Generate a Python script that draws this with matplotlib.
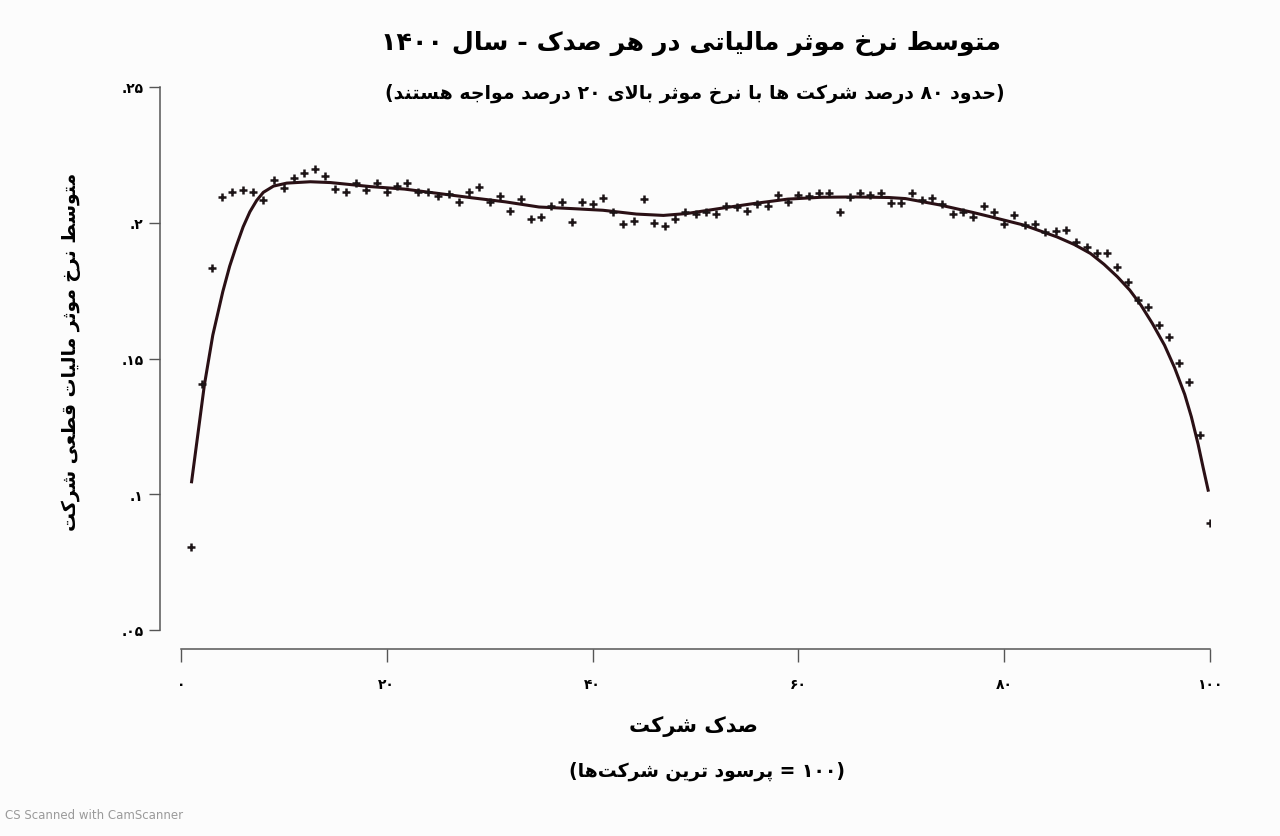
import re
import matplotlib
matplotlib.use("Agg")
import matplotlib.pyplot as plt

plt.rcParams['font.family'] = ['DejaVu Sans']

# percentile of firm (1..100) and mean effective tax rate
pct = list(range(1, 101))
rate = [0.0806, 0.1407, 0.1834, 0.2096, 0.2114, 0.2120, 0.2112, 0.2084, 0.2157, 0.2129,
        0.2163, 0.2184, 0.2198, 0.2172, 0.2123, 0.2112, 0.2145, 0.2120, 0.2147, 0.2114,
        0.2135, 0.2147, 0.2112, 0.2112, 0.2100, 0.2106, 0.2077, 0.2114, 0.2130, 0.2077,
        0.2098, 0.2043, 0.2087, 0.2014, 0.2022, 0.2063, 0.2077, 0.2004, 0.2075, 0.2069,
        0.2090, 0.2041, 0.1997, 0.2006, 0.2086, 0.2000, 0.1989, 0.2012, 0.2041, 0.2034,
        0.2041, 0.2034, 0.2062, 0.2059, 0.2043, 0.2069, 0.2063, 0.2102, 0.2075, 0.2102,
        0.2098, 0.2108, 0.2111, 0.2041, 0.2096, 0.2108, 0.2102, 0.2111, 0.2071, 0.2071,
        0.2111, 0.2084, 0.2090, 0.2069, 0.2033, 0.2041, 0.2022, 0.2063, 0.2041, 0.1994,
        0.2029, 0.1991, 0.1997, 0.1967, 0.1969, 0.1975, 0.1930, 0.1909, 0.1887, 0.1887,
        0.1838, 0.1780, 0.1717, 0.1690, 0.1625, 0.1578, 0.1484, 0.1412, 0.1218, 0.0895]

# fitted curve
fit_x = [1.03, 2.27, 3.09, 4.06, 4.73, 5.38, 6.04, 6.69, 7.35, 8.0, 8.99, 10.28, 12.57,
         14.53, 18.45, 21.72, 24.99, 28.25, 31.52, 34.79, 38.06, 41.0, 44.26, 46.88,
         49.17, 52.44, 55.71, 58.97, 62.25, 65.51, 68.77, 70.41, 73.68, 76.95, 78.58,
         81.85, 85.12, 86.8, 88.38, 89.7, 91.0, 92.2, 93.28, 94.4, 95.58, 96.56, 97.54,
         98.19, 98.84, 99.34, 99.82]
fit_y = [0.1046, 0.1402, 0.1586, 0.1746, 0.1840, 0.1915, 0.1985, 0.2040, 0.2082, 0.2112,
         0.2135, 0.2146, 0.2151, 0.2148, 0.2133, 0.2124, 0.2108, 0.2092, 0.2077, 0.2058,
         0.2052, 0.2046, 0.2032, 0.2027, 0.2034, 0.2053, 0.2071, 0.2087, 0.2094, 0.2095,
         0.2093, 0.2089, 0.2066, 0.2038, 0.2023, 0.1992, 0.1948, 0.1920, 0.1887, 0.1847,
         0.1801, 0.1752, 0.1697, 0.1629, 0.1549, 0.1466, 0.1368, 0.1285, 0.1185, 0.1097,
         0.1015]

yticks = [0.05, 0.1, 0.15, 0.2, 0.25]
ytick_labels = ['.۰۵', '.۱', '.۱۵', '.۲', '.۲۵']
xticks = [0, 20, 40, 60, 80, 100]
xtick_labels = ['۰', '۲۰', '۴۰', '۶۰', '۸۰', '۱۰۰']

title = 'متوسط نرخ موثر مالیاتی در هر صدک - سال ۱۴۰۰'
subtitle = '(حدود ۸۰ درصد شرکت ها با نرخ موثر بالای ۲۰ درصد مواجه هستند)'
ylab = 'متوسط نرخ موثر مالیات قطعی شرکت'
xlab1 = 'صدک شرکت'
xlab2 = '(۱۰۰ = پرسود ترین شرکت\u200cها)'

# --- minimal Persian shaping (no arabic_reshaper available) ---
# isolated, final, initial, medial
FORMS = {
    'ا': ('\uFE8D', '\uFE8E', None, None),
    'ب': ('\uFE8F', '\uFE90', '\uFE91', '\uFE92'),
    'پ': ('\uFB56', '\uFB57', '\uFB58', '\uFB59'),
    'ت': ('\uFE95', '\uFE96', '\uFE97', '\uFE98'),
    'ث': ('\uFE99', '\uFE9A', '\uFE9B', '\uFE9C'),
    'ج': ('\uFE9D', '\uFE9E', '\uFE9F', '\uFEA0'),
    'ح': ('\uFEA1', '\uFEA2', '\uFEA3', '\uFEA4'),
    'خ': ('\uFEA5', '\uFEA6', '\uFEA7', '\uFEA8'),
    'د': ('\uFEA9', '\uFEAA', None, None),
    'ر': ('\uFEAD', '\uFEAE', None, None),
    'س': ('\uFEB1', '\uFEB2', '\uFEB3', '\uFEB4'),
    'ش': ('\uFEB5', '\uFEB6', '\uFEB7', '\uFEB8'),
    'ص': ('\uFEB9', '\uFEBA', '\uFEBB', '\uFEBC'),
    'ط': ('\uFEC1', '\uFEC2', '\uFEC3', '\uFEC4'),
    'ع': ('\uFEC9', '\uFECA', '\uFECB', '\uFECC'),
    'ق': ('\uFED5', '\uFED6', '\uFED7', '\uFED8'),
    'ک': ('\uFB8E', '\uFB8F', '\uFB90', '\uFB91'),
    'ل': ('\uFEDD', '\uFEDE', '\uFEDF', '\uFEE0'),
    'م': ('\uFEE1', '\uFEE2', '\uFEE3', '\uFEE4'),
    'ن': ('\uFEE5', '\uFEE6', '\uFEE7', '\uFEE8'),
    'ه': ('\uFEE9', '\uFEEA', '\uFEEB', '\uFEEC'),
    'و': ('\uFEED', '\uFEEE', None, None),
    'ی': ('\uFBFC', '\uFBFD', '\uFBFE', '\uFBFF'),
    '\uFEFB': ('\uFEFB', '\uFEFC', None, None),  # lam-alef
}
MIRROR = {'(': ')', ')': '('}


def fa(text):
    s = text.replace('لا', '\uFEFB')
    out = []
    for i, c in enumerate(s):
        if c not in FORMS:
            out.append(c)
            continue
        prev = s[i - 1] if i > 0 else ''
        nxt = s[i + 1] if i + 1 < len(s) else ''
        pj = prev in FORMS and FORMS[prev][2] is not None
        nj = nxt in FORMS and FORMS[c][2] is not None
        f = FORMS[c]
        if pj and nj:
            out.append(f[3])
        elif pj:
            out.append(f[1])
        elif nj:
            out.append(f[2])
        else:
            out.append(f[0])
    shaped = ''.join(out).replace('\u200c', '')
    runs = re.findall(r'[۰-۹]+|.', shaped)
    return ''.join(MIRROR.get(r, r) for r in reversed(runs))


fig = plt.figure(figsize=(12.8, 8.37), dpi=100)
fig.patch.set_facecolor('#fcfcfc')
ax = fig.add_axes([181 / 1280, 1 - 631 / 837, 1029 / 1280, 543 / 837])
ax.set_facecolor('#fcfcfc')

ax.scatter(pct, rate, marker='+', s=34, linewidths=1.8, color='#1c1416', zorder=3)
ax.plot(fit_x, fit_y, color='#2a1015', lw=2.2, zorder=2, solid_joinstyle='round')

ax.set_xlim(0, 100)
ax.set_ylim(0.05, 0.25)
for side in ['top', 'right']:
    ax.spines[side].set_visible(False)
ax.spines['left'].set_position(('outward', 15))
ax.spines['bottom'].set_position(('outward', 14))
ax.spines['left'].set_bounds(0.05, 0.25)
ax.spines['bottom'].set_bounds(0, 100)
for side in ['left', 'bottom']:
    ax.spines[side].set_color('#555555')
    ax.spines[side].set_linewidth(1.1)

ax.set_yticks(yticks)
ax.set_yticklabels(ytick_labels, fontsize=10, fontweight='bold')
ax.set_xticks(xticks)
ax.set_xticklabels(xtick_labels, fontsize=10, fontweight='bold')
ax.tick_params(axis='y', length=8, width=1, color='#555555', pad=4)
ax.tick_params(axis='x', length=9, width=1, color='#555555', pad=11)

fig.text(0.54, 0.948, fa(title), ha='center', va='center', fontsize=18.3, fontweight='bold')
fig.text(0.543, 0.888, fa(subtitle), ha='center', va='center', fontsize=13.6, fontweight='bold')
fig.text(0.056, 0.58, fa(ylab), ha='center', va='center', rotation=90, fontsize=13.5, fontweight='bold')
fig.text(0.542, 0.132, fa(xlab1), ha='center', va='center', fontsize=15, fontweight='bold')
fig.text(0.552, 0.079, fa(xlab2), ha='center', va='center', fontsize=13.5, fontweight='bold')
fig.text(0.004, 0.022, 'CS Scanned with CamScanner', fontsize=8.5, color='#9a9a9a')

fig.savefig('out.png', dpi=100, facecolor=fig.get_facecolor())
